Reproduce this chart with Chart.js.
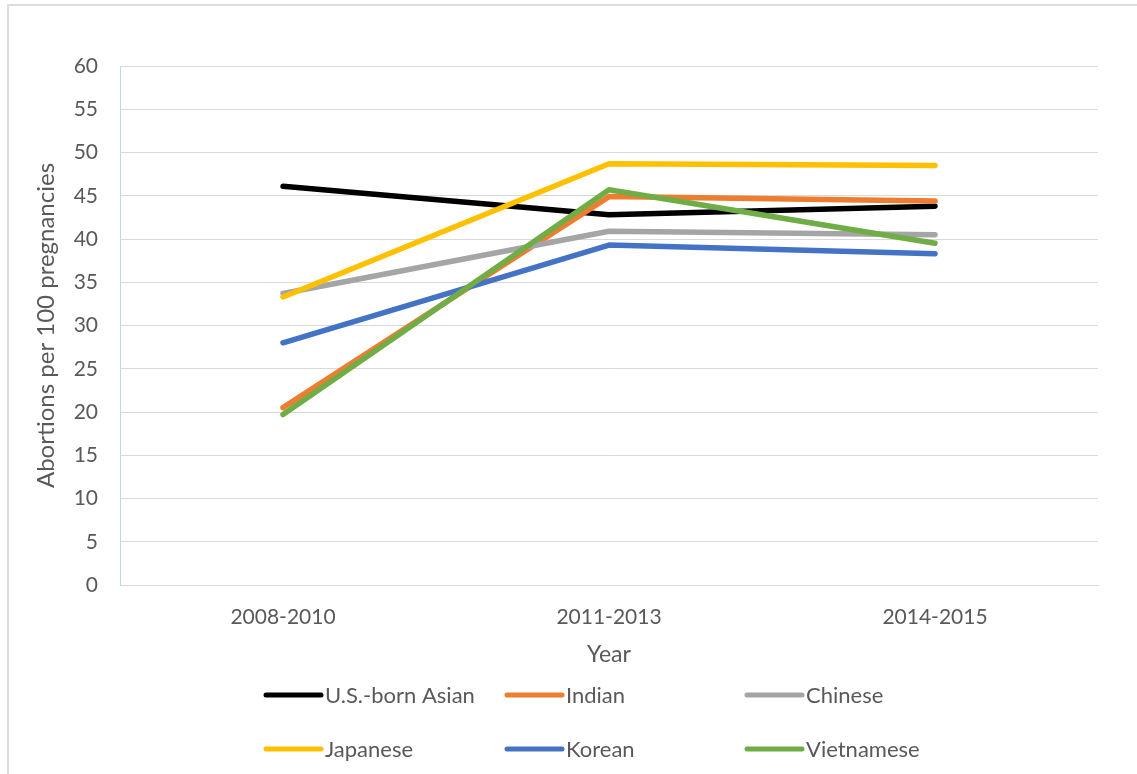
<!DOCTYPE html>
<html>
<head>
<meta charset="utf-8">
<script src="https://cdn.jsdelivr.net/npm/chart.js@4/dist/chart.umd.min.js"></script>
<style>
  body { margin: 0; background: #fff; overflow: hidden; }
  #wrap { position: relative; width: 1137px; height: 774px; }
  #frame { position: absolute; left: 7px; top: 4px; width: 1200px; height: 800px; border: 2px solid #dcdcdc; }
  canvas { position: absolute; left: 0; top: 0; }
</style>
</head>
<body>
<div id="wrap">
  <div id="frame"></div>
  <canvas id="abortionChart" width="1137" height="774"></canvas>
</div>
<script>
// Abortions per 100 pregnancies by period
const periods = ['2008-2010', '2011-2013', '2014-2015'];
const usBornAsian = [46.1, 42.8, 43.8];
const indian = [20.5, 44.9, 44.4];
const chinese = [33.7, 40.9, 40.5];
const japanese = [33.3, 48.7, 48.5];
const korean = [28.0, 39.3, 38.3];
const vietnamese = [19.7, 45.7, 39.5];

const seriesNames = ['U.S.-born Asian', 'Indian', 'Chinese', 'Japanese', 'Korean', 'Vietnamese'];
const seriesValues = [usBornAsian, indian, chinese, japanese, korean, vietnamese];
const seriesColors = ['#000000', '#ED7D31', '#A5A5A5', '#FFC000', '#4472C4', '#70AD47'];

const textColor = '#595959';
const fontFamily = 'Lato, "Open Sans", sans-serif';

// Excel-style legend: 3 columns x 2 rows, short line swatch before each label
const gridLegend = {
  id: 'gridLegend',
  afterDraw(chart) {
    const ctx = chart.ctx;
    const colX = [266, 507, 747];
    const rowY = [695, 749];
    ctx.save();
    ctx.font = '22px ' + fontFamily;
    ctx.textBaseline = 'middle';
    ctx.lineCap = 'round';
    chart.data.datasets.forEach((ds, i) => {
      const x = colX[i % 3];
      const y = rowY[Math.floor(i / 3)];
      ctx.strokeStyle = ds.borderColor;
      ctx.lineWidth = 5;
      ctx.beginPath();
      ctx.moveTo(x, y);
      ctx.lineTo(x + 55, y);
      ctx.stroke();
      ctx.fillStyle = textColor;
      ctx.fillText(ds.label, x + 59, y + 1);
    });
    ctx.restore();
  }
};

const ctx = document.getElementById('abortionChart').getContext('2d');
const abortionChart = new Chart(ctx, {
  type: 'line',
  data: {
    labels: periods,
    datasets: seriesNames.map((name, i) => ({
      label: name,
      data: seriesValues[i],
      borderColor: seriesColors[i],
      backgroundColor: seriesColors[i],
      borderWidth: 5.5,
      borderCapStyle: 'round',
      borderJoinStyle: 'round',
      pointRadius: 0,
      tension: 0,
      fill: false,
      order: seriesNames.length - i
    }))
  },
  options: {
    responsive: false,
    animation: false,
    layout: {
      padding: { left: 30, top: 66, right: 39, bottom: 99 }
    },
    plugins: {
      legend: { display: false },
      tooltip: { enabled: false }
    },
    scales: {
      x: {
        offset: true,
        grid: { display: false, drawTicks: false },
        border: { color: '#d9d9d9', width: 1 },
        ticks: {
          color: textColor,
          font: { family: fontFamily, size: 21 },
          padding: 20
        },
        title: {
          display: true,
          text: 'Year',
          color: textColor,
          font: { family: fontFamily, size: 23 },
          padding: { top: 10, bottom: 7 }
        },
        afterFit(scale) { scale.height = 90; }
      },
      y: {
        min: 0,
        max: 60,
        grid: { color: '#d9d9d9', lineWidth: 1, drawTicks: false },
        border: { color: '#bdd7ee', width: 1 },
        ticks: {
          stepSize: 5,
          color: textColor,
          font: { family: fontFamily, size: 21 },
          padding: 22
        },
        title: {
          display: true,
          text: 'Abortions per 100 pregnancies',
          color: textColor,
          font: { family: fontFamily, size: 24 },
          padding: { top: 2, bottom: 2 }
        },
        afterFit(scale) { scale.width = 90; }
      }
    }
  },
  plugins: [gridLegend]
});
</script>
</body>
</html>
